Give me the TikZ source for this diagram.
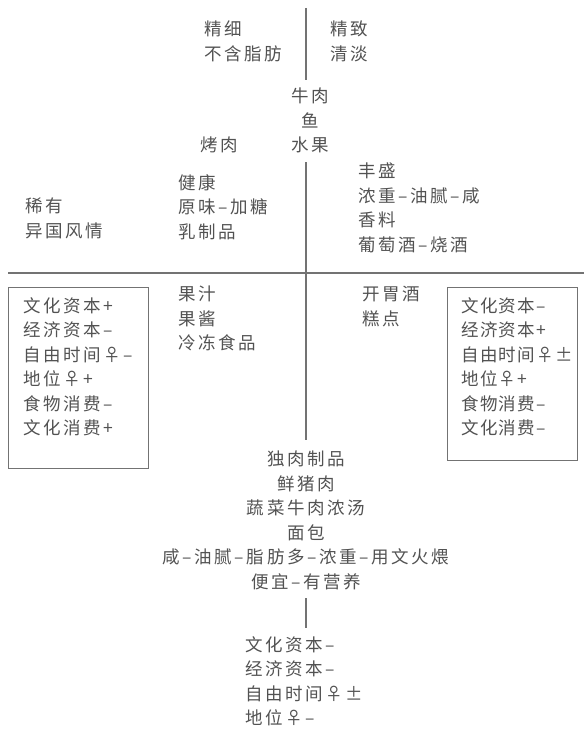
\documentclass[tikz,border=0pt]{standalone}
\usepackage{fontspec}
\setmainfont{Noto Sans CJK SC}[LetterSpace=15]
\tikzset{
  txt/.style={inner sep=0pt, align=left, anchor=north west, text=black!68,
    font=\fontsize{17.5}{24.5}\selectfont},
  ctxt/.style={txt, align=center, anchor=north},
  tight/.style={txt, font=\fontsize{17.5}{24.5}\selectfont\addfontfeature{LetterSpace=8}},
  frame/.style={draw=black!55, line width=0.9pt, inner sep=0pt, anchor=north west},
  ln/.style={draw=black!55, line width=1.1pt}
}
\begin{document}
\begin{tikzpicture}[x=1pt,y=-1pt]
\useasboundingbox (0,0) rectangle (584,733);
% text blocks
\node[txt] (tl) at (204,21) {精细\\不含脂肪};
\node[txt] (tr) at (330,21) {精致\\清淡};
\node[ctxt] (mid) at (310,88) {牛肉\\鱼\\水果};
\node[txt] (kao) at (200,137) {烤肉};
\node[txt] (feng) at (358,163) {丰盛\\浓重–油腻–咸\\香料\\葡萄酒–烧酒};
\node[txt] (jian) at (178,174) {健康\\原味–加糖\\乳制品};
\node[txt] (xi) at (25,198) {稀有\\异国风情};
\node[txt] (guo) at (178,286) {果汁\\果酱\\冷冻食品};
\node[txt] (kai) at (362,286) {开胃酒\\糕点};
% boxes
\node[frame, minimum width=140pt, minimum height=181pt] (lbox) at (8,287) {};
\node[txt] (ltext) at (23,297)
  {文化资本+\\经济资本–\\自由时间♀–\\地位♀+\\食物消费–\\文化消费+};
\node[frame, minimum width=130pt, minimum height=173pt] (rbox) at (447,287) {};
\node[tight] (rtext) at (461,297)
  {文化资本–\\经济资本+\\自由时间♀±\\地位♀+\\食物消费–\\文化消费–};
% bottom
\node[ctxt] (bot) at (306,451) {独肉制品\\鲜猪肉\\蔬菜牛肉浓汤\\面包\\咸–油腻–脂肪多–浓重–用文火煨\\便宜–有营养};
\node[txt] (stat) at (245,636) {文化资本–\\经济资本–\\自由时间♀±\\地位♀–};
% axes
\coordinate (v1a) at (306,8);
\coordinate (v1b) at (306,80);
\coordinate (v2a) at (306,162);
\coordinate (v2b) at (306,440);
\coordinate (v3a) at (306,598);
\coordinate (v3b) at (306,628);
\coordinate (h1) at (8,273);
\coordinate (h2) at (584,273);
\draw[ln] (v1a) -- (v1b);
\draw[ln] (v2a) -- (v2b);
\draw[ln] (v3a) -- (v3b);
\draw[ln] (h1) -- (h2);
\end{tikzpicture}
\end{document}
